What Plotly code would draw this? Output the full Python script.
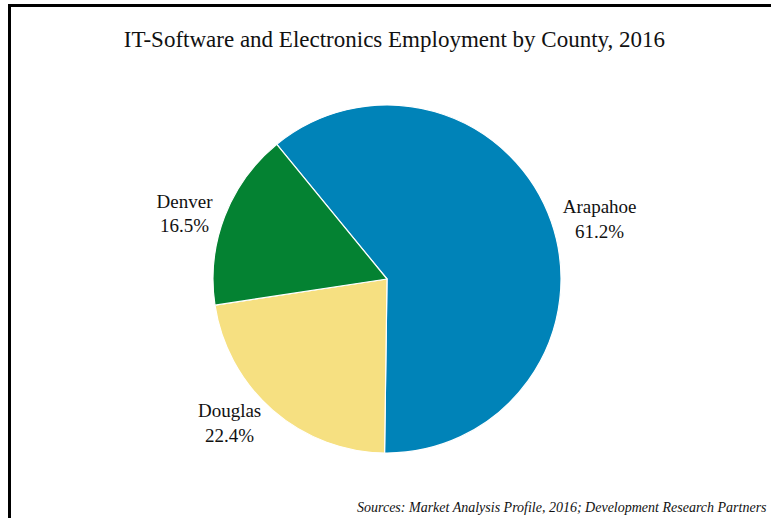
import plotly.graph_objects as go

counties = ["Arapahoe", "Douglas", "Denver"]
shares = [61.2, 22.4, 16.5]
colors = ["#0083B8", "#F6E081", "#048232"]

W, H = 771, 518
cx, cy, r = 387, 279, 174

fig = go.Figure(go.Pie(
    labels=counties,
    values=shares,
    text=[f"{c}<br>{v:.1f}%" for c, v in zip(counties, shares)],
    textinfo="text",
    textposition="outside",
    sort=False,
    direction="clockwise",
    rotation=-39.3,
    marker=dict(colors=colors, line=dict(color="white", width=1.2)),
    textfont=dict(family="Liberation Serif", size=19, color="#111111"),
    showlegend=False,
    hoverinfo="label+percent",
    domain=dict(x=[(cx - r) / W, (cx + r) / W], y=[(H - cy - r) / H, (H - cy + r) / H]),
))

fig.update_layout(
    width=W, height=H,
    margin=dict(l=0, r=0, t=0, b=0),
    paper_bgcolor="white",
    font=dict(family="Liberation Serif", color="#111111"),
    title=dict(
        text="IT-Software and Electronics Employment by County, 2016",
        x=394.5 / W, y=1 - 39 / H, xanchor="center", yanchor="middle",
        xref="paper", yref="paper",
        font=dict(family="Liberation Serif", size=23, color="#111111"),
    ),
    annotations=[dict(
        text="<i>Sources: Market Analysis Profile, 2016; Development Research Partners</i>",
        x=769 / W, y=1 - 507 / H, xref="paper", yref="paper",
        xanchor="right", yanchor="middle", showarrow=False,
        font=dict(family="Liberation Serif", size=14, color="#111111"),
    )],
    shapes=[
        dict(type="line", xref="paper", yref="paper", x0=9.5 / W, x1=9.5 / W, y0=0, y1=1 - 4 / H,
             line=dict(color="black", width=3)),
        dict(type="line", xref="paper", yref="paper", x0=8 / W, x1=1, y0=1 - 5.5 / H, y1=1 - 5.5 / H,
             line=dict(color="black", width=3)),
    ],
)

fig.write_html("out.html", config={"displayModeBar": False},
               post_script="document.body.style.margin='0';document.body.style.overflow='hidden';")
